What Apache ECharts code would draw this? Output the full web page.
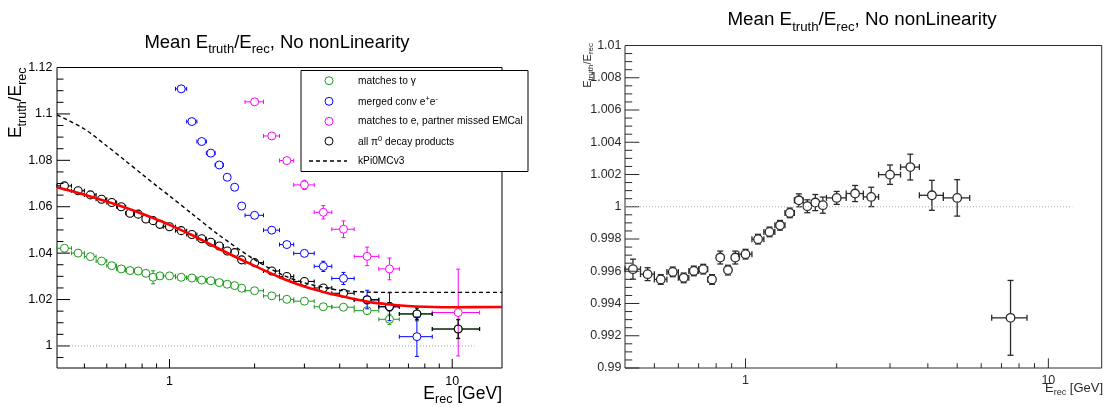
<!DOCTYPE html>
<html>
<head>
<meta charset="utf-8">
<script src="https://cdn.jsdelivr.net/npm/echarts@6/dist/echarts.min.js"></script>
<style>
  html, body { margin: 0; padding: 0; background: #ffffff; }
  #chart { width: 1112px; height: 407px; }
</style>
</head>
<body>
<div id="chart"></div>
<script>
// ---------------------------------------------------------------
// Energy binning (GeV): bin centres and half widths
// ---------------------------------------------------------------
const binCenters = [0.425, 0.475, 0.525, 0.575, 0.625, 0.675, 0.725, 0.775, 0.825, 0.875, 0.925,
                    1.0, 1.1, 1.2, 1.3, 1.4, 1.5, 1.6, 1.7, 1.8,
                    2.0, 2.3, 2.6, 3.0, 3.5, 4.125, 5.0, 6.0, 7.5, 10.5];
const binHalfWidths = [0.025, 0.025, 0.025, 0.025, 0.025, 0.025, 0.025, 0.025, 0.025, 0.025, 0.025,
                       0.05, 0.05, 0.05, 0.05, 0.05, 0.05, 0.05, 0.05, 0.05,
                       0.15, 0.15, 0.15, 0.25, 0.25, 0.375, 0.5, 0.5, 1.0, 2.0];

// Mean E_truth/E_rec per bin, for each cluster class (null = empty bin)
const gammaMean = [1.0421, 1.0400, 1.0385, 1.0366, 1.0346, 1.0332, 1.0325, 1.0323, 1.0313, 1.0296, 1.0302,
                   1.0302, 1.0296, 1.0293, 1.0284, 1.0281, 1.0273, 1.0266, 1.0260, 1.0249,
                   1.0238, 1.0216, 1.0201, 1.0193, 1.0169, 1.0167, 1.0152, 1.0115, 1.0138, 1.0073];
const gammaErr  = [0.0003, 0.0003, 0.0003, 0.0003, 0.0003, 0.0003, 0.0003, 0.0003, 0.0003, 0.0028, 0.0003,
                   0.0003, 0.0003, 0.0003, 0.0003, 0.0003, 0.0003, 0.0003, 0.0003, 0.0003,
                   0.0004, 0.0004, 0.0004, 0.0004, 0.0006, 0.0007, 0.0012, 0.0022, 0.0030, 0.0042];

const convMean = [null, null, null, null, null, null, null, null, null, null, null,
                  null, 1.1108, 1.0967, 1.0881, 1.0831, 1.0780, 1.0727, 1.0684, 1.0603,
                  1.0563, 1.0499, 1.0437, 1.0399, 1.0343, 1.0291, 1.0200, 1.0169, 1.0040, null];
const convErr  = [null, null, null, null, null, null, null, null, null, null, null,
                  null, 0.0008, 0.0008, 0.0008, 0.0008, 0.0008, 0.0008, 0.0008, 0.0013,
                  0.0006, 0.0008, 0.0011, 0.0017, 0.0022, 0.0026, 0.0040, 0.0060, 0.0085, null];

const elecMean = [null, null, null, null, null, null, null, null, null, null, null,
                  null, null, null, null, null, null, null, null, null,
                  1.1052, 1.0905, 1.0799, 1.0694, 1.0576, 1.0503, 1.0386, 1.0332, null, 1.0144];
const elecErr  = [null, null, null, null, null, null, null, null, null, null, null,
                  null, null, null, null, null, null, null, null, null,
                  0.0006, 0.0011, 0.0014, 0.0020, 0.0029, 0.0036, 0.0040, 0.0047, null, 0.0187];

const allMean = [1.0690, 1.0669, 1.0651, 1.0632, 1.0618, 1.0600, 1.0572, 1.0568, 1.0547, 1.0540, 1.0524,
                 1.0514, 1.0497, 1.0480, 1.0462, 1.0447, 1.0431, 1.0409, 1.0402, 1.0371,
                 1.0359, 1.0323, 1.0299, 1.0278, 1.0250, 1.0227, 1.0198, 1.0169, 1.0138, 1.0073];
const allErr  = [0.0004, 0.0003, 0.0003, 0.0003, 0.0003, 0.0003, 0.0003, 0.0003, 0.0003, 0.0003, 0.0003,
                 0.0003, 0.0003, 0.0003, 0.0003, 0.0003, 0.0003, 0.0003, 0.0003, 0.0003,
                 0.0004, 0.0004, 0.0005, 0.0005, 0.0006, 0.0008, 0.0012, 0.0018, 0.0025, 0.0040];

// kPi0MCv3 parametrisation
const paramE   = [0.4, 0.5, 0.6, 0.7, 0.8, 0.9, 1.0, 1.2, 1.5, 2.0, 2.5, 3.0, 3.5, 4.0, 5.0, 6.0, 15];
const paramVal = [1.0996, 1.0935, 1.0862, 1.0797, 1.0740, 1.0690, 1.0647, 1.0570, 1.0477, 1.0372,
                  1.0307, 1.0272, 1.0253, 1.0240, 1.0232, 1.0231, 1.0231];

// Fit to all pi0 decay products
const fitE   = [0.4, 0.5, 0.6, 0.7, 0.8, 0.9, 1.0, 1.2, 1.5, 2.0, 2.5, 3.0, 3.5, 4.0, 5.0, 6.0, 7.5, 10, 15];
const fitVal = [1.0684, 1.0652, 1.0623, 1.0596, 1.0570, 1.0545, 1.0522, 1.0478, 1.0418, 1.0345,
                1.0292, 1.0256, 1.0233, 1.0216, 1.0191, 1.0179, 1.0170, 1.0167, 1.0168];

// Right pad: mean after correction
const corrMean = [0.99613, 0.99582, 0.99549, 0.99596, 0.99559, 0.99602, 0.99613, 0.99549, 0.99685, 0.99607, 0.99685,
                  0.99706, 0.99799, 0.99844, 0.99885, 0.99962, 1.00040, 1.00003, 1.00026, 1.00010,
                  1.00055, 1.00082, 1.00061, 1.00199, 1.00246, 1.00071, 1.00055, null, 0.99311, null];
const corrErr  = [0.00062, 0.00040, 0.00030, 0.00030, 0.00030, 0.00030, 0.00030, 0.00030, 0.00040, 0.00030, 0.00040,
                  0.00030, 0.00030, 0.00030, 0.00030, 0.00030, 0.00040, 0.00040, 0.00050, 0.00050,
                  0.00040, 0.00050, 0.00060, 0.00060, 0.00080, 0.00093, 0.00113, null, 0.00232, null];

// Axis ticks and labels
const xMajorTicks = [1, 10];
const xMajorLabels = ['1', '10'];
const xMinorTicks = [0.5, 0.6, 0.7, 0.8, 0.9, 2, 3, 4, 5, 6, 7, 8, 9];
const leftYTicks  = [1.0, 1.02, 1.04, 1.06, 1.08, 1.1, 1.12];
const leftYLabels = ['1', '1.02', '1.04', '1.06', '1.08', '1.1', '1.12'];
const rightYTicks  = [0.99, 0.992, 0.994, 0.996, 0.998, 1.0, 1.002, 1.004, 1.006, 1.008, 1.01];
const rightYLabels = ['0.99', '0.992', '0.994', '0.996', '0.998', '1', '1.002', '1.004', '1.006', '1.008', '1.01'];

// Axis ranges
const X_MIN = 0.4, X_MAX = 15;
const LEFT_Y_MIN = 0.9905, LEFT_Y_MAX = 1.12;
const RIGHT_Y_MIN = 0.99, RIGHT_Y_MAX = 1.01;
const REF_LINE_END = 12;

const FONT = '"Liberation Sans", Arial, Helvetica, sans-serif';
const GREEN = '#1a9a1a', BLUE = '#0000ff', MAGENTA = '#ff00ff', BLACK = '#000000', RED = '#ff0000';
const DARK = '#2a2a2a';

// ---------------------------------------------------------------
function pointsData(means, errs) {
  const out = [];
  means.forEach((m, i) => {
    if (m !== null) out.push([binCenters[i], m, binHalfWidths[i], errs[i]]);
  });
  return out;
}

// open-circle marker with error bars and end caps
function pointRenderer(color, r, lw, cap, fill) {
  return function (params, api) {
    const x = api.value(0), y = api.value(1), xw = api.value(2), ey = api.value(3);
    const c = api.coord([x, y]);
    const xl = api.coord([x - xw, y])[0];
    const xh = api.coord([x + xw, y])[0];
    const yt = api.coord([x, y + ey])[1];
    const yb = api.coord([x, y - ey])[1];
    const kids = [];
    const seg = (x1, y1, x2, y2) => kids.push({
      type: 'line', shape: { x1, y1, x2, y2 }, style: { stroke: color, lineWidth: lw }
    });
    if (c[0] - xl > r) { seg(xl, c[1], c[0] - r, c[1]); seg(xl, c[1] - cap, xl, c[1] + cap); }
    if (xh - c[0] > r) { seg(c[0] + r, c[1], xh, c[1]); seg(xh, c[1] - cap, xh, c[1] + cap); }
    if (c[1] - yt > r) { seg(c[0], yt, c[0], c[1] - r); seg(c[0] - cap, yt, c[0] + cap, yt); }
    if (yb - c[1] > r) { seg(c[0], c[1] + r, c[0], yb); seg(c[0] - cap, yb, c[0] + cap, yb); }
    kids.push({ type: 'circle', shape: { cx: c[0], cy: c[1], r },
                style: { fill: fill, stroke: color, lineWidth: lw } });
    return { type: 'group', children: kids };
  };
}

function pointSeries(gi, name, means, errs, color, r, lw, cap, fill) {
  return {
    type: 'custom', name, xAxisIndex: gi, yAxisIndex: gi,
    data: pointsData(means, errs),
    encode: { x: 0, y: 1 },
    renderItem: pointRenderer(color, r, lw, cap, fill),
    silent: true, animation: false
  };
}

// tick marks: [x, y, dx, dy] — anchored at data coords, drawn as pixel offsets
function tickItems(yMin, yTicks, yMinor, yMajLen, yMinLen, xMajLen, xMinLen) {
  const items = [];
  yTicks.forEach(v => items.push([X_MIN, v, yMajLen, 0]));
  yMinor.forEach(v => items.push([X_MIN, v, yMinLen, 0]));
  xMajorTicks.forEach(v => items.push([v, yMin, 0, -xMajLen]));
  xMinorTicks.forEach(v => items.push([v, yMin, 0, -xMinLen]));
  return items;
}
function tickSeries(gi, items, color) {
  return {
    type: 'custom', xAxisIndex: gi, yAxisIndex: gi, data: items, encode: { x: 0, y: 1 },
    silent: true, animation: false,
    renderItem(params, api) {
      const p = api.coord([api.value(0), api.value(1)]);
      return { type: 'line', shape: { x1: p[0], y1: p[1], x2: p[0] + api.value(2), y2: p[1] + api.value(3) },
               style: { stroke: color, lineWidth: 1 } };
    }
  };
}
function minorBetween(ticks, step) {
  const out = [];
  const lo = ticks[0] - step * 3, hi = ticks[ticks.length - 1];
  for (let k = 0; ; k++) {
    const v = +(lo + k * step).toFixed(6);
    if (v > hi + 1e-9) break;
    if (!ticks.some(t => Math.abs(t - v) < 1e-9)) out.push(v);
  }
  return out;
}

// tick labels: [x, y] + text lookup
function labelSeries(gi, items, texts, dx, dy, align, font, color) {
  return {
    type: 'custom', xAxisIndex: gi, yAxisIndex: gi, data: items, encode: { x: 0, y: 1 },
    silent: true, animation: false,
    renderItem(params, api) {
      const p = api.coord([api.value(0), api.value(1)]);
      return { type: 'text', x: p[0] + dx, y: p[1] + dy,
               style: { text: texts[params.dataIndex], font, fill: color, align, verticalAlign: 'middle',
                        textAlign: align, textVerticalAlign: 'middle', legacy: false } };
    }
  };
}

// text with subscripts built from [text, isSub] parts
function subText(parts, size, subSize, drop, color) {
  let s = '';
  parts.forEach(([t, sub]) => { s += '{' + (sub ? 's' : 'm') + '|' + t + '}'; });
  return {
    text: s,
    rich: {
      m: { fontSize: size, fontFamily: FONT, fill: color, verticalAlign: 'top' },
      s: { fontSize: subSize, fontFamily: FONT, fill: color, verticalAlign: 'top', padding: [drop, 0, 0, 0] }
    },
    legacy: false
  };
}
function supText(parts, size, supSize, lift, color) {
  let s = '';
  parts.forEach(([t, sup]) => { s += '{' + (sup ? 'p' : 'm') + '|' + t + '}'; });
  return {
    text: s,
    rich: {
      m: { fontSize: size, fontFamily: FONT, fill: color, verticalAlign: 'top', padding: [lift, 0, 0, 0] },
      p: { fontSize: supSize, fontFamily: FONT, fill: color, verticalAlign: 'top' }
    },
    legacy: false
  };
}

const titleParts = [['Mean E', 0], ['truth', 1], ['/E', 0], ['rec', 1], [', No nonLinearity', 0]];
const yTitleParts = [['E', 0], ['truth', 1], ['/E', 0], ['rec', 1]];
const xTitleParts = [['E', 0], ['rec', 1], [' [GeV]', 0]];

const hidden = { axisLine: { show: false }, axisTick: { show: false }, axisLabel: { show: false }, splitLine: { show: false } };

const leftYMinor = minorBetween(leftYTicks, 0.005).filter(v => v > LEFT_Y_MIN);
const rightYMinor = minorBetween(rightYTicks, 0.0005).filter(v => v > RIGHT_Y_MIN && v < RIGHT_Y_MAX);

// ---------------------------------------------------------------
const chart = echarts.init(document.getElementById('chart'), null, { renderer: 'canvas', width: 1112, height: 407 });

// legend box of the left pad
const LEG_X = 301, LEG_Y = 70.5, LEG_W = 227, LEG_H = 101;
const LEG_SYM_X = 329, LEG_TXT_X = 358, LEG_FONT = 10.2;
const legendRows = [
  { y: 80.7,  kind: 'pt', color: GREEN,   label: subText([['matches to γ', 0]], LEG_FONT, 8, 0, '#000') },
  { y: 101.3, kind: 'pt', color: BLUE,    label: supText([['merged conv e', 0], ['+', 1], ['e', 0], ['-', 1]], LEG_FONT, 7.5, 2, '#000') },
  { y: 121.3, kind: 'pt', color: MAGENTA, label: subText([['matches to e, partner missed EMCal', 0]], LEG_FONT, 8, 0, '#000') },
  { y: 141.1, kind: 'pt', color: BLACK,   label: supText([['all π', 0], ['0', 1], [' decay products', 0]], LEG_FONT, 7.5, 2, '#000') },
  { y: 161,   kind: 'ln', color: BLACK,   label: subText([['kPi0MCv3', 0]], LEG_FONT, 8, 0, '#000') }
];
const legendEls = [{ type: 'rect', shape: { x: LEG_X, y: LEG_Y, width: LEG_W, height: LEG_H },
                     style: { fill: '#ffffff', stroke: '#000000', lineWidth: 1 } }];
legendRows.forEach(row => {
  if (row.kind === 'pt') {
    legendEls.push({ type: 'circle', shape: { cx: LEG_SYM_X, cy: row.y, r: 4 },
                     style: { fill: 'none', stroke: row.color, lineWidth: 1 } });
  } else {
    legendEls.push({ type: 'line', shape: { x1: LEG_SYM_X - 20, y1: row.y, x2: LEG_SYM_X + 18, y2: row.y },
                     style: { stroke: row.color, lineWidth: 1.3, lineDash: [4, 3] } });
  }
  legendEls.push({ type: 'text', x: LEG_TXT_X, y: row.y,
                   style: Object.assign({ align: 'left', verticalAlign: 'middle' }, row.label) });
});

const option = {
  animation: false,
  backgroundColor: '#ffffff',
  grid: [
    { left: 57, right: 610, top: 67.5, bottom: 39, show: true, borderColor: '#000', borderWidth: 1, backgroundColor: 'transparent' },
    { left: 625, right: 10.3, top: 45.5, bottom: 39, show: true, borderColor: DARK, borderWidth: 1, backgroundColor: 'transparent' }
  ],
  xAxis: [
    Object.assign({ gridIndex: 0, type: 'log', logBase: 10, min: X_MIN, max: X_MAX }, hidden),
    Object.assign({ gridIndex: 1, type: 'log', logBase: 10, min: X_MIN, max: X_MAX }, hidden)
  ],
  yAxis: [
    Object.assign({ gridIndex: 0, type: 'value', min: LEFT_Y_MIN, max: LEFT_Y_MAX }, hidden),
    Object.assign({ gridIndex: 1, type: 'value', min: RIGHT_Y_MIN, max: RIGHT_Y_MAX }, hidden)
  ],
  graphic: [
    { type: 'group', z: 100, children: legendEls },
    { type: 'text', x: 277, y: 33, z: 100,
      style: Object.assign({ align: 'center', verticalAlign: 'top' }, subText(titleParts, 18.5, 13, 10, '#000')) },
    { type: 'text', x: 862, y: 10.5, z: 100,
      style: Object.assign({ align: 'center', verticalAlign: 'top' }, subText(titleParts, 18.8, 13.2, 10, '#000')) },
    { type: 'text', x: 7, y: 67.5, rotation: Math.PI / 2, z: 100,
      style: Object.assign({ align: 'right', verticalAlign: 'top' }, subText(yTitleParts, 17.5, 12.5, 9, '#000')) },
    { type: 'text', x: 502, y: 385, z: 100,
      style: Object.assign({ align: 'right', verticalAlign: 'top' }, subText(xTitleParts, 17.5, 12.5, 8, '#000')) },
    { type: 'text', x: 582, y: 43, rotation: Math.PI / 2, z: 100,
      style: Object.assign({ align: 'right', verticalAlign: 'top' }, subText(yTitleParts, 11, 8, 5, DARK)) },
    { type: 'text', x: 1103, y: 382, z: 100,
      style: Object.assign({ align: 'right', verticalAlign: 'top' }, subText(xTitleParts, 13, 9, 6, DARK)) }
  ],
  series: [
    // ---------- left pad ----------
    { type: 'line', xAxisIndex: 0, yAxisIndex: 0, data: [[X_MIN, 1], [REF_LINE_END, 1]], symbol: 'none',
      lineStyle: { color: '#a0a0a0', width: 1, type: [1, 2] }, silent: true },
    pointSeries(0, 'matches to γ', gammaMean, gammaErr, GREEN, 4, 1, 2, 'none'),
    pointSeries(0, 'merged conv e+e-', convMean, convErr, BLUE, 4, 1, 2, 'none'),
    pointSeries(0, 'matches to e, partner missed EMCal', elecMean, elecErr, MAGENTA, 4, 1, 2, 'none'),
    pointSeries(0, 'all pi0 decay products', allMean, allErr, BLACK, 4, 1.1, 2, 'none'),
    { type: 'line', name: 'kPi0MCv3', xAxisIndex: 0, yAxisIndex: 0, smooth: 0.3, symbol: 'none',
      data: paramE.map((e, i) => [e, paramVal[i]]),
      lineStyle: { color: BLACK, width: 1.4, type: [4, 3] }, silent: true },
    { type: 'line', name: 'fit', xAxisIndex: 0, yAxisIndex: 0, smooth: 0.3, symbol: 'none',
      data: fitE.map((e, i) => [e, fitVal[i]]),
      lineStyle: { color: RED, width: 2.6 }, silent: true },
    tickSeries(0, tickItems(LEFT_Y_MIN, leftYTicks, leftYMinor, 13, 6.5, 9, 4.5), '#000'),
    labelSeries(0, leftYTicks.map(v => [X_MIN, v]), leftYLabels, -4.5, 0, 'right', '12.5px ' + FONT, '#000'),
    labelSeries(0, xMajorTicks.map(v => [v, LEFT_Y_MIN]), xMajorLabels, 0, 14, 'center', '12.5px ' + FONT, '#000'),
    // ---------- right pad ----------
    { type: 'line', xAxisIndex: 1, yAxisIndex: 1, data: [[X_MIN, 1], [REF_LINE_END, 1]], symbol: 'none',
      lineStyle: { color: '#a8a8a8', width: 1, type: [1, 2] }, silent: true },
    pointSeries(1, 'corrected', corrMean, corrErr, DARK, 4.3, 1.3, 3, '#ffffff'),
    tickSeries(1, tickItems(RIGHT_Y_MIN, rightYTicks, rightYMinor, 14.3, 7.2, 9.7, 4.8), DARK),
    labelSeries(1, rightYTicks.map(v => [X_MIN, v]), rightYLabels, -3.5, 0, 'right', '12.5px ' + FONT, DARK),
    labelSeries(1, xMajorTicks.map(v => [v, RIGHT_Y_MIN]), xMajorLabels, 0, 13, 'center', '12.5px ' + FONT, DARK)
  ]
};

chart.setOption(option);
</script>
</body>
</html>
